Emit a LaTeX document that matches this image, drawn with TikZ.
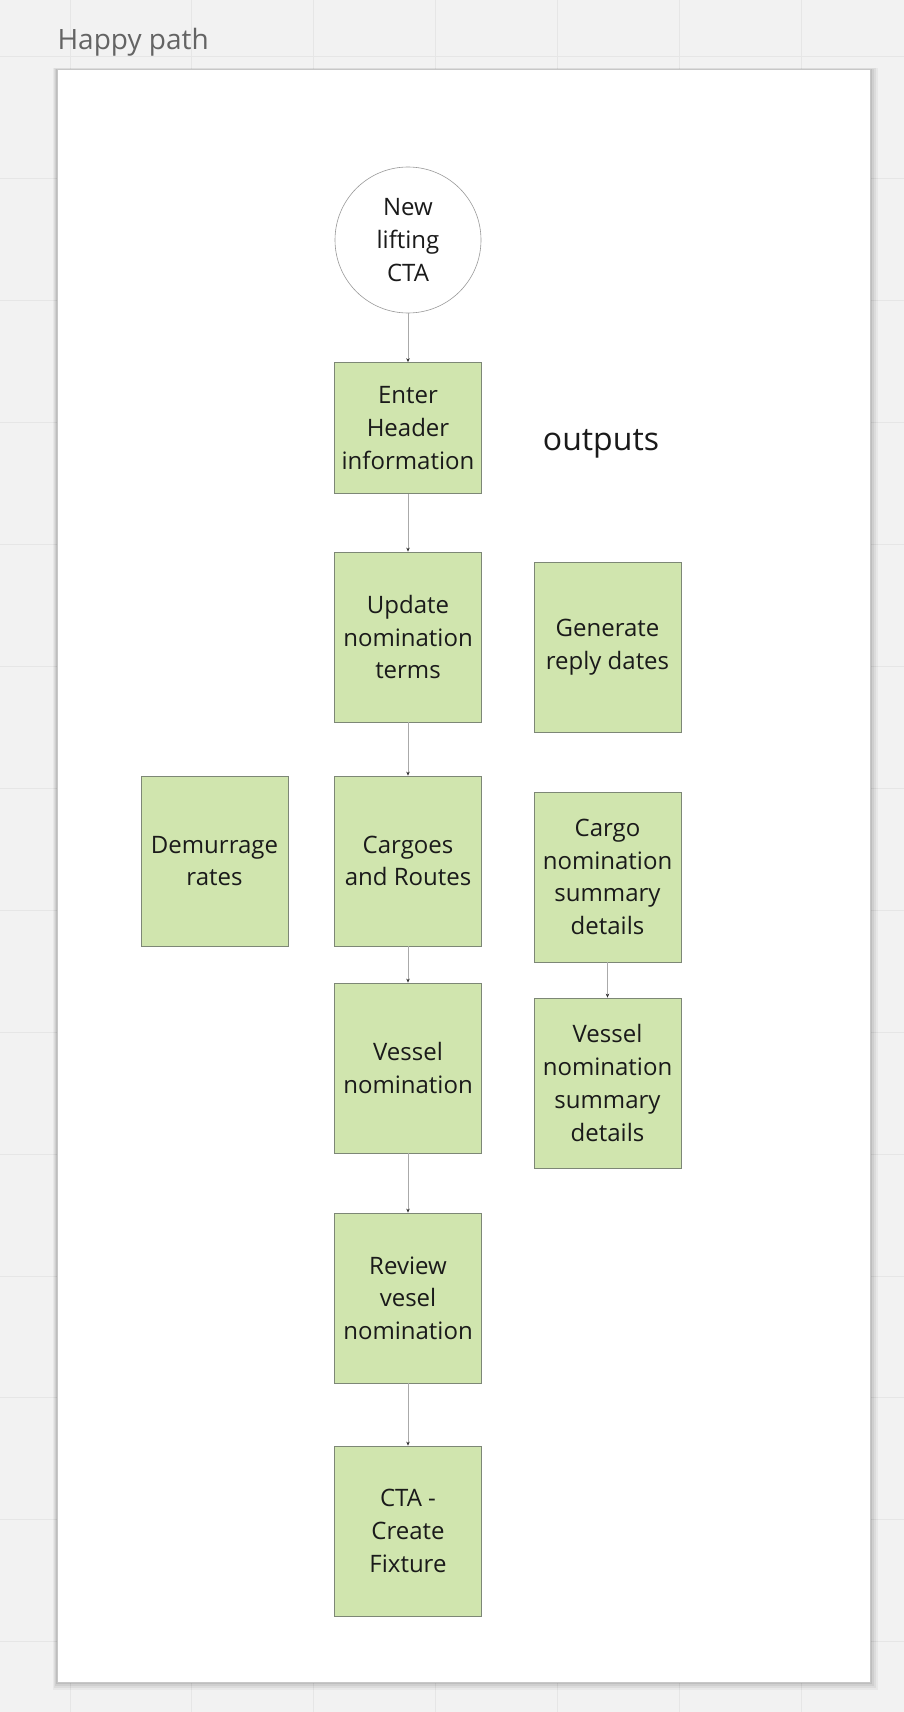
\documentclass[tikz,border=0pt]{standalone}
\usepackage{fontspec}
\setmainfont{Open Sans}
\usetikzlibrary{arrows.meta}
\definecolor{bg}{RGB}{242,242,242}
\definecolor{gridc}{RGB}{230,230,230}
\definecolor{boxfill}{RGB}{208,229,174}
\definecolor{boxdraw}{RGB}{125,135,118}
\definecolor{txt}{RGB}{26,26,26}
\definecolor{titlec}{RGB}{100,100,100}
\definecolor{linec}{RGB}{170,170,170}
\tikzset{
  stepbox/.style={draw=boxdraw, line width=0.8pt, fill=boxfill, minimum width=147pt, minimum height=170pt, inner sep=0pt, align=center, text=txt, font=\fontsize{24}{32.7}\selectfont},
  startc/.style={circle, draw=gray!80, line width=0.6pt, fill=white, minimum size=146pt, inner sep=0pt, align=center, text=txt, font=\fontsize{24}{32.7}\selectfont},
  conn/.style={draw=linec, line width=0.6pt, -{Stealth[length=4pt,width=3.5pt,color=black!80,fill=black!80]}},
}
\begin{document}
\begin{tikzpicture}[x=1pt,y=-1pt]
\useasboundingbox (0,0) rectangle (904,1712);
\fill[bg] (0,0) rectangle (904,1712);
\foreach \i in {0,...,6} \draw[gridc, line width=1pt] ({70+121.9*\i},0) -- ({70+121.9*\i},1712);
\foreach \j in {0,...,13} \draw[gridc, line width=1pt] (0,{57+121.9*\j}) -- (904,{57+121.9*\j});
% frame shadow
\foreach \s/\o in {8/0.04,6/0.05,4/0.06,2/0.08} \fill[black, opacity=\o] ({57-\s/2},{70-\s/4}) rectangle ({870+\s},{1682+\s});
\draw[fill=white, draw=black!22, line width=1pt] (57,70) rectangle (870,1682);
\node[anchor=west, text=titlec, font=\fontsize{28}{34}\selectfont] (title) at (54,42) {Happy path};
\node[startc] (start) at (408,240) {New\\lifting\\CTA};
\node[stepbox, minimum height=131pt] (header) at (408,428) {Enter\\Header\\information};
\node[stepbox] (update) at (408,637) {Update\\nomination\\terms};
\node[stepbox] (cargoes) at (408,861) {Cargoes\\and Routes};
\node[stepbox] (vessel) at (408,1068) {Vessel\\nomination};
\node[stepbox] (review) at (408,1298) {Review\\vesel\\nomination};
\node[stepbox] (fixture) at (408,1531) {CTA -\\Create\\Fixture};
\node[stepbox] (demurrage) at (214.5,861) {Demurrage\\rates};
\node[text=txt, font=\fontsize{32}{38}\selectfont] (outputs) at (601,444) {outputs};
\node[stepbox] (reply) at (607.5,647) {Generate\\reply dates};
\node[stepbox] (cargosum) at (607.5,877) {Cargo\\nomination\\summary\\details};
\node[stepbox] (vesselsum) at (607.5,1083) {Vessel\\nomination\\summary\\details};
\draw[conn] (start) -- (header);
\draw[conn] (header) -- (update);
\draw[conn] (update) -- (cargoes);
\draw[conn] (cargoes) -- (vessel);
\draw[conn] (vessel) -- (review);
\draw[conn] (review) -- (fixture);
\draw[conn] (cargosum) -- (vesselsum);
\end{tikzpicture}
\end{document}
